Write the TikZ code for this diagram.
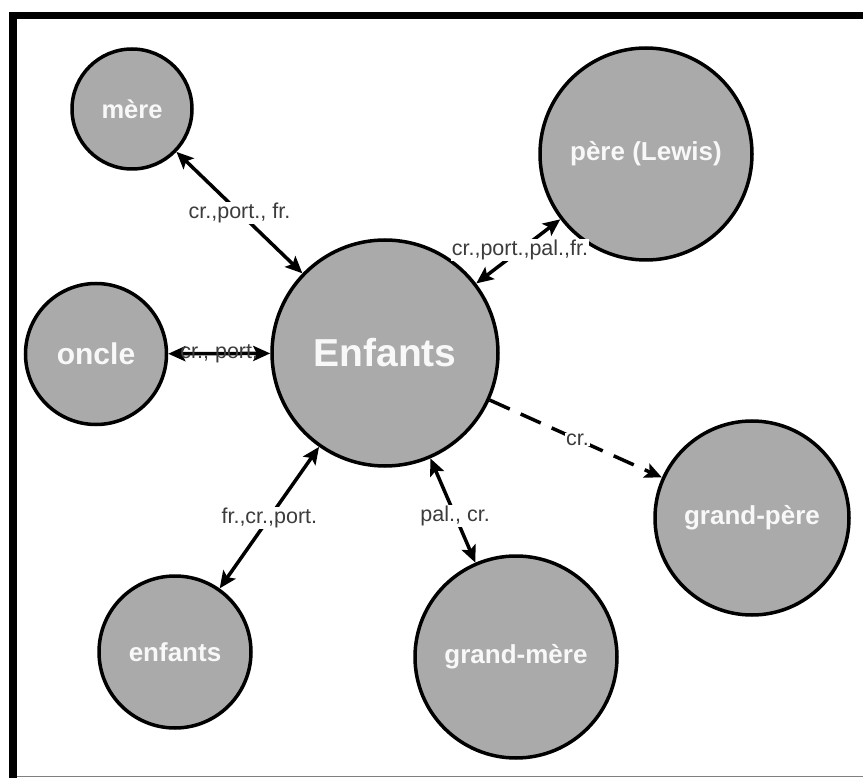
\documentclass[tikz,border=0pt]{standalone}
\usepackage{fontspec}
\setmainfont{Liberation Sans}
\usetikzlibrary{arrows.meta}
\definecolor{nodegray}{RGB}{170,170,170}
\definecolor{labelgray}{RGB}{60,60,60}
\definecolor{nodetext}{RGB}{248,248,248}
\begin{document}
\begin{tikzpicture}[x=1pt,y=-1pt,
  person/.style={circle,draw=black,line width=3.5pt,fill=nodegray,text=nodetext,
    font=\fontsize{26}{30}\selectfont\bfseries,inner sep=0pt},
  tip/.tip={Stealth[length=17pt,width=15pt,inset=3.5pt]},
  rel/.style={line width=3.5pt,tip-tip},
  onerel/.style={line width=3.5pt,-tip,dash pattern=on 22pt off 12pt},
  lbl/.style={fill=white,text=labelgray,font=\fontsize{21.5}{24}\selectfont,inner sep=1pt}]
\useasboundingbox (0,0) rectangle (863,778);
\fill[white] (0,0) rectangle (863,778);
\fill[black] (9,12) rectangle (863,19);
\fill[black] (9,12) rectangle (17,778);
\draw[gray,line width=1.5pt] (17,776.5) -- (863,776.5);

\node[person,minimum size=120pt,font=\fontsize{25.5}{30}\selectfont\bfseries] (mere) at (132,109) {mère};
\node[person,minimum size=212pt] (pere) at (646,154) {père (Lewis)};
\node[person,minimum size=141pt,font=\fontsize{30}{34}\selectfont\bfseries] (oncle) at (96,354) {oncle};
\node[person,minimum size=226pt,font=\fontsize{39}{44}\selectfont\bfseries] (E) at (385,353) {Enfants};
\node[person,minimum size=194pt] (gpere) at (752,518) {grand-père};
\node[person,minimum size=202pt] (gmere) at (516,657) {grand-mère};
\node[person,minimum size=152pt] (enf) at (175,652) {enfants};

\draw[rel] (mere) -- node[lbl] {cr.,port., fr.} (E);
\draw[rel] (E) -- node[lbl,pos=0.52] {cr.,port.,pal.,fr.} (pere);
\draw[rel] (oncle) -- node[lbl,fill=none] {cr., port.} (E);
\draw[onerel] (E) -- node[lbl,pos=0.51] {cr.} (gpere);
\draw[rel] (E) -- node[lbl,pos=0.55] {pal., cr.} (gmere);
\draw[rel] (E) -- node[lbl] {fr.,cr.,port.} (enf);
\end{tikzpicture}
\end{document}
